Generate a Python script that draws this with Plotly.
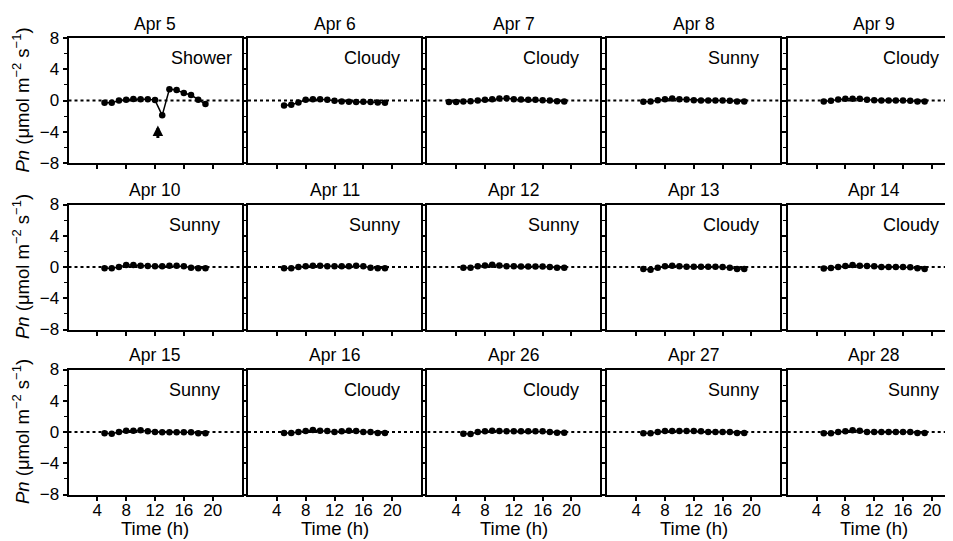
import plotly.graph_objects as go

# ---------------- data ----------------
dates = ["Apr 5", "Apr 6", "Apr 7", "Apr 8", "Apr 9",
         "Apr 10", "Apr 11", "Apr 12", "Apr 13", "Apr 14",
         "Apr 15", "Apr 16", "Apr 26", "Apr 27", "Apr 28"]
weather = ["Shower", "Cloudy", "Cloudy", "Sunny", "Cloudy",
           "Sunny", "Sunny", "Sunny", "Cloudy", "Cloudy",
           "Sunny", "Cloudy", "Cloudy", "Sunny", "Sunny"]

hours_std = [5, 6, 7, 8, 9, 10, 11, 12, 13, 14, 15, 16, 17, 18, 19]
hours_apr7 = [3, 4, 5, 6, 7, 8, 9, 10, 11, 12, 13, 14, 15, 16, 17, 18, 19]

pn_apr5 = [-0.3, -0.3, 0.0, 0.1, 0.2, 0.15, 0.15, 0.05, -1.9, 1.45, 1.35, 0.95, 0.7, 0.1, -0.45]
pn_apr6 = [-0.65, -0.55, -0.25, 0.1, 0.17, 0.17, 0.08, -0.04, -0.12, -0.17, -0.2, -0.17, -0.2, -0.25, -0.3]
pn_apr7 = [-0.2, -0.2, -0.13, -0.09, 0.0, 0.09, 0.17, 0.26, 0.3, 0.17, 0.13, 0.09, 0.09, 0.04, 0.0, -0.09, -0.13]
pn_apr8 = [-0.17, -0.13, 0.04, 0.17, 0.26, 0.17, 0.13, 0.04, 0.0, 0.0, 0.0, 0.0, -0.04, -0.13, -0.13]
pn_apr9 = [-0.13, -0.04, 0.13, 0.21, 0.21, 0.21, 0.09, 0.04, 0.0, 0.0, 0.0, 0.0, -0.04, -0.13, -0.13]
pn_apr10 = [-0.17, -0.17, 0.0, 0.26, 0.26, 0.17, 0.13, 0.09, 0.09, 0.17, 0.17, 0.09, -0.09, -0.17, -0.17]
pn_apr11 = [-0.17, -0.17, 0.0, 0.09, 0.17, 0.17, 0.09, 0.09, 0.09, 0.09, 0.17, 0.09, -0.09, -0.17, -0.17]
pn_apr12 = [-0.1, -0.1, 0.1, 0.2, 0.3, 0.2, 0.1, 0.1, 0.05, 0.05, 0.05, 0.05, 0.0, -0.1, -0.1]
pn_apr13 = [-0.26, -0.34, -0.09, 0.09, 0.17, 0.09, 0.04, 0.04, 0.04, 0.04, 0.04, 0.0, -0.09, -0.26, -0.26]
pn_apr14 = [-0.2, -0.13, 0.0, 0.13, 0.26, 0.17, 0.13, 0.09, 0.0, 0.0, 0.0, 0.0, -0.04, -0.17, -0.26]
pn_apr15 = [-0.17, -0.21, 0.0, 0.17, 0.17, 0.21, 0.09, 0.0, -0.04, -0.04, -0.04, -0.04, -0.04, -0.17, -0.17]
pn_apr16 = [-0.13, -0.13, 0.0, 0.13, 0.26, 0.17, 0.13, 0.0, 0.09, 0.17, 0.13, 0.0, 0.0, -0.13, -0.13]
pn_apr26 = [-0.21, -0.26, 0.0, 0.09, 0.17, 0.13, 0.09, 0.09, 0.09, 0.09, 0.09, 0.09, 0.0, -0.09, -0.09]
pn_apr27 = [-0.17, -0.17, 0.0, 0.13, 0.13, 0.13, 0.13, 0.13, 0.09, 0.0, 0.0, 0.0, 0.0, -0.13, -0.13]
pn_apr28 = [-0.17, -0.17, 0.0, 0.09, 0.21, 0.17, 0.0, 0.0, 0.0, 0.0, 0.0, 0.0, 0.0, -0.13, -0.13]

pn_values = [pn_apr5, pn_apr6, pn_apr7, pn_apr8, pn_apr9,
             pn_apr10, pn_apr11, pn_apr12, pn_apr13, pn_apr14,
             pn_apr15, pn_apr16, pn_apr26, pn_apr27, pn_apr28]
hours = [hours_std, hours_std, hours_apr7] + [hours_std] * 12

x_tickvals = [4, 8, 12, 16, 20]
y_tickvals = [-8, -4, 0, 4, 8]
y_ticktext = ["\u22128", "\u22124", "0", "4", "8"]

shower_arrow_time = 12.4

# ---------------- layout geometry (pixels, page coords) ----------------
OFF = 8  # default page body margin
W, H = 953 - OFF, 541 - OFF
col_left = [68.5 - OFF, 248.0 - OFF, 427.3 - OFF, 607.3 - OFF, 787.7 - OFF]
panel_w = 173.0
row_top = [38.0 - OFF, 204.5 - OFF, 369.5 - OFF]
panel_h = 125.0
X_MAX = 24.0

FONT = "Liberation Sans, Arial, Helvetica, sans-serif"

fig = go.Figure()
annotations = []
layout_axes = {}

for i in range(15):
    r, c = divmod(i, 5)
    n = i + 1
    xa = "x" if n == 1 else f"x{n}"
    ya = "y" if n == 1 else f"y{n}"
    xkey = "xaxis" if n == 1 else f"xaxis{n}"
    ykey = "yaxis" if n == 1 else f"yaxis{n}"

    x0 = col_left[c]
    x1 = min(x0 + panel_w, W)
    xr = X_MAX * (x1 - x0) / panel_w
    y_top = row_top[r]
    y_bot = y_top + panel_h

    # zero reference line (dotted)
    fig.add_trace(go.Scatter(x=[0, X_MAX], y=[0, 0], xaxis=xa, yaxis=ya, mode="lines",
                             line=dict(color="black", width=1.8, dash="dot"),
                             hoverinfo="skip", showlegend=False))
    # data
    fig.add_trace(go.Scatter(x=hours[i], y=pn_values[i], xaxis=xa, yaxis=ya,
                             mode="lines+markers",
                             line=dict(color="black", width=1.5),
                             marker=dict(color="black", size=6.5),
                             showlegend=False, cliponaxis=False))

    layout_axes[xkey] = dict(
        domain=[x0 / W, x1 / W], range=[0, xr], anchor=ya,
        showline=True, linecolor="black", linewidth=2, mirror=True,
        ticks="outside", ticklen=4, tickwidth=1.5, tickcolor="black",
        tickvals=x_tickvals, showticklabels=(r == 2), ticklabelstandoff=-5,
        tickfont=dict(family=FONT, size=17, color="black"),
        showgrid=False, zeroline=False, fixedrange=True, automargin=False,
    )
    layout_axes[ykey] = dict(
        domain=[1 - y_bot / H, 1 - y_top / H], range=[-8, 8], anchor=xa,
        showline=True, linecolor="black", linewidth=2, mirror=(c != 4),
        ticks="outside", ticklen=4, tickwidth=1.5, tickcolor="black",
        tickvals=y_tickvals, ticktext=y_ticktext, showticklabels=(c == 0),
        minor=dict(dtick=2, tick0=0, ticks="outside", ticklen=3, tickwidth=1.2, tickcolor="black"),
        tickfont=dict(family=FONT, size=17, color="black"),
        showgrid=False, zeroline=False, fixedrange=True, automargin=False,
    )

    # panel title
    annotations.append(dict(text=dates[i], xref="paper", yref="paper",
                            x=(x0 + panel_w / 2) / W, y=1 - (y_top - 14.5) / H,
                            xanchor="center", yanchor="middle", showarrow=False,
                            font=dict(family=FONT, size=17.5, color="black")))
    # weather label
    annotations.append(dict(text=weather[i], xref=xa, yref=ya,
                            x=(23.0 if weather[i] == "Shower" else 21.3), y=5.4,
                            xanchor="right", yanchor="middle", showarrow=False,
                            font=dict(family=FONT, size=18, color="black")))
    if c == 0:
        annotations.append(dict(text="<i>Pn</i> (\u03bcmol m<sup>\u22122</sup> s<sup>\u22121</sup>)",
                                xref="paper", yref="paper", x=(21 - OFF) / W,
                                y=1 - (y_top + panel_h / 2) / H,
                                xanchor="center", yanchor="middle", textangle=-90,
                                showarrow=False,
                                font=dict(family=FONT, size=18.5, color="black")))
    if r == 2:
        annotations.append(dict(text="Time (h)", xref="paper", yref="paper",
                                x=(x0 + 0.5 * panel_w) / W, y=1 - (528 - OFF) / H,
                                xanchor="center", yanchor="middle", showarrow=False,
                                font=dict(family=FONT, size=18.5, color="black")))

# shower arrow on Apr 5
annotations.append(dict(x=shower_arrow_time, y=-3.2, ax=shower_arrow_time, ay=-5.0,
                        xref="x", yref="y", axref="x", ayref="y", text="",
                        showarrow=True, arrowhead=2, arrowsize=0.7, arrowwidth=3.0,
                        arrowcolor="black"))

fig.update_layout(
    width=W, height=H,
    margin=dict(l=0, r=0, t=0, b=0),
    paper_bgcolor="white", plot_bgcolor="white",
    annotations=annotations,
    showlegend=False,
    **layout_axes,
)

fig.write_html("out.html")
